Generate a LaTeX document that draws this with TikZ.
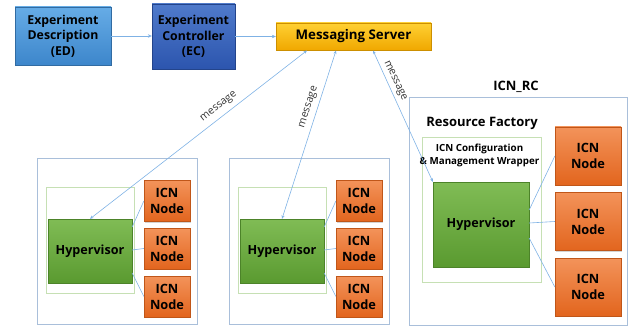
\documentclass[tikz,border=0pt]{standalone}
\usepackage{fontspec}
\setmainfont{Open Sans}
\usetikzlibrary{arrows.meta,shadows}
\definecolor{lineblue}{HTML}{7FB2E5}
\definecolor{boxborder}{HTML}{A9BFDA}
\definecolor{greenborder}{HTML}{C6E0B4}
\begin{document}
\begin{tikzpicture}[x=1pt,y=-1pt,
  font=\bfseries,
  shad/.style={drop shadow={shadow xshift=1.2pt,shadow yshift=-1.2pt,opacity=0.35,fill=gray}},
  edbox/.style={shad,top color=ED1,bottom color=ED2,draw=ED2!80!black,line width=0.3pt,align=center,font=\bfseries\fontsize{12.3}{15.5}\selectfont,inner sep=0pt},
  ecbox/.style={shad,top color=EC1,bottom color=EC2,draw=EC2!80!black,line width=0.3pt,align=center,font=\bfseries\fontsize{12.3}{15.5}\selectfont,inner sep=0pt},
  msbox/.style={shad,top color=MS1,bottom color=MS2,draw=MS2!85!black,line width=0.3pt,font=\bfseries\fontsize{13.3}{15}\selectfont,inner sep=0pt},
  hvbox/.style={shad,top color=HV1,bottom color=HV2,draw=HV2!85!black,line width=0.3pt,font=\bfseries\fontsize{12.6}{14}\selectfont,inner sep=0pt},
  icnbox/.style={shad,top color=IC1,bottom color=IC2,draw=IC2!85!black,line width=0.3pt,align=center,font=\bfseries\fontsize{12.8}{16}\selectfont,inner sep=0pt,minimum width=46pt,minimum height=41pt},
  icnbig/.style={icnbox,minimum width=66pt,minimum height=58pt},
  outerbox/.style={draw=boxborder,line width=0.6pt},
  innerbox/.style={draw=greenborder,line width=0.6pt},
  conn/.style={draw=lineblue,line width=0.6pt},
  msgarrow/.style={conn,{Stealth[length=3.5pt,width=3pt]}-{Stealth[length=3.5pt,width=3pt]}},
  flow/.style={conn,-{Stealth[length=4pt,width=3.5pt]}},
  msglabel/.style={font=\fontsize{10.5}{12}\selectfont,text=black!80,inner sep=0pt},
  titletext/.style={font=\bfseries\fontsize{13}{15}\selectfont,inner sep=0pt}
]
\definecolor{ED1}{HTML}{66ACE6}\definecolor{ED2}{HTML}{3D86CB}
\definecolor{EC1}{HTML}{4F7ACB}\definecolor{EC2}{HTML}{2C55AE}
\definecolor{MS1}{HTML}{FFD033}\definecolor{MS2}{HTML}{F0A800}
\definecolor{HV1}{HTML}{80BC55}\definecolor{HV2}{HTML}{5A9A30}
\definecolor{IC1}{HTML}{F3935A}\definecolor{IC2}{HTML}{E2651E}

\useasboundingbox (0,0) rectangle (629,326);

% top row
\node[edbox,minimum width=96pt,minimum height=58pt] (ed) at (63,36) {Experiment\\Description\\(ED)};
\node[ecbox,minimum width=83pt,minimum height=65pt] (ec) at (193.5,36.5) {Experiment\\Controller\\(EC)};
\node[msbox,minimum width=155pt,minimum height=27pt] (ms) at (353.5,36.5) {Messaging Server};
\draw[flow] (ed) -- (ed -| ec.west);
\draw[flow] (ec) -- (ec -| ms.west);

% left cluster
\draw[outerbox] (37,158) rectangle (197,324);
\draw[innerbox] (46,187) rectangle (134,293);
\node[hvbox,minimum width=84pt,minimum height=64pt] (hv1) at (90,251) {Hypervisor};
\node[icnbox] (n11) at (167,201) {ICN\\Node};
\node[icnbox] (n12) at (167,248.5) {ICN\\Node};
\node[icnbox] (n13) at (167,296.5) {ICN\\Node};
\draw[conn] (hv1.east |- 0,227) -- (n11.west);
\draw[conn] (hv1.east |- 0,250) -- (n12.west);
\draw[conn] (hv1.east |- 0,273) -- (n13.west);

% middle cluster
\draw[outerbox] (229,158) rectangle (389,324);
\draw[innerbox] (238,187) rectangle (326,293);
\node[hvbox,minimum width=84pt,minimum height=64pt] (hv2) at (282,251) {Hypervisor};
\node[icnbox] (n21) at (359,201) {ICN\\Node};
\node[icnbox] (n22) at (359,248.5) {ICN\\Node};
\node[icnbox] (n23) at (359,296.5) {ICN\\Node};
\draw[conn] (hv2.east |- 0,227) -- (n21.west);
\draw[conn] (hv2.east |- 0,250) -- (n22.west);
\draw[conn] (hv2.east |- 0,273) -- (n23.west);

% right cluster
\draw[outerbox] (409,97) rectangle (627,325);
\node[titletext] (rclabel) at (516,87) {ICN\_RC};
\node[titletext] (rflabel) at (482,123) {Resource Factory};
\draw[innerbox] (422,137) rectangle (541,282);
\node[font=\bfseries\fontsize{9.8}{13}\selectfont,align=center,inner sep=0pt] (wrap) at (479.5,155.5) {ICN Configuration\\\& Management Wrapper};
\node[hvbox,minimum width=96pt,minimum height=85pt] (hv3) at (481,224.5) {Hypervisor};
\node[icnbig] (n31) at (588,156) {ICN\\Node};
\node[icnbig] (n32) at (588,221.5) {ICN\\Node};
\node[icnbig] (n33) at (588,287) {ICN\\Node};
\draw[conn] (hv3.east |- 0,210) -- (n31.west);
\draw[conn] (hv3.east |- 0,223) -- (n32.west);
\draw[conn] (hv3.east |- 0,238) -- (n33.west);

% message connectors
\coordinate (m1) at (307,50.5);
\coordinate (m2) at (336,50.5);
\coordinate (m3) at (373,50.5);
\draw[msgarrow] (m1) -- (hv1.north);
\draw[msgarrow] (m2) -- (hv2.north);
\draw[msgarrow] (m3) -- (hv3.north west);
\node[msglabel,rotate=37.8] (l1) at (219,107) {message};
\node[msglabel,rotate=72] (l2) at (309,107) {message};
\node[msglabel,rotate=-65] (l3) at (395,81) {message};
\end{tikzpicture}
\end{document}
